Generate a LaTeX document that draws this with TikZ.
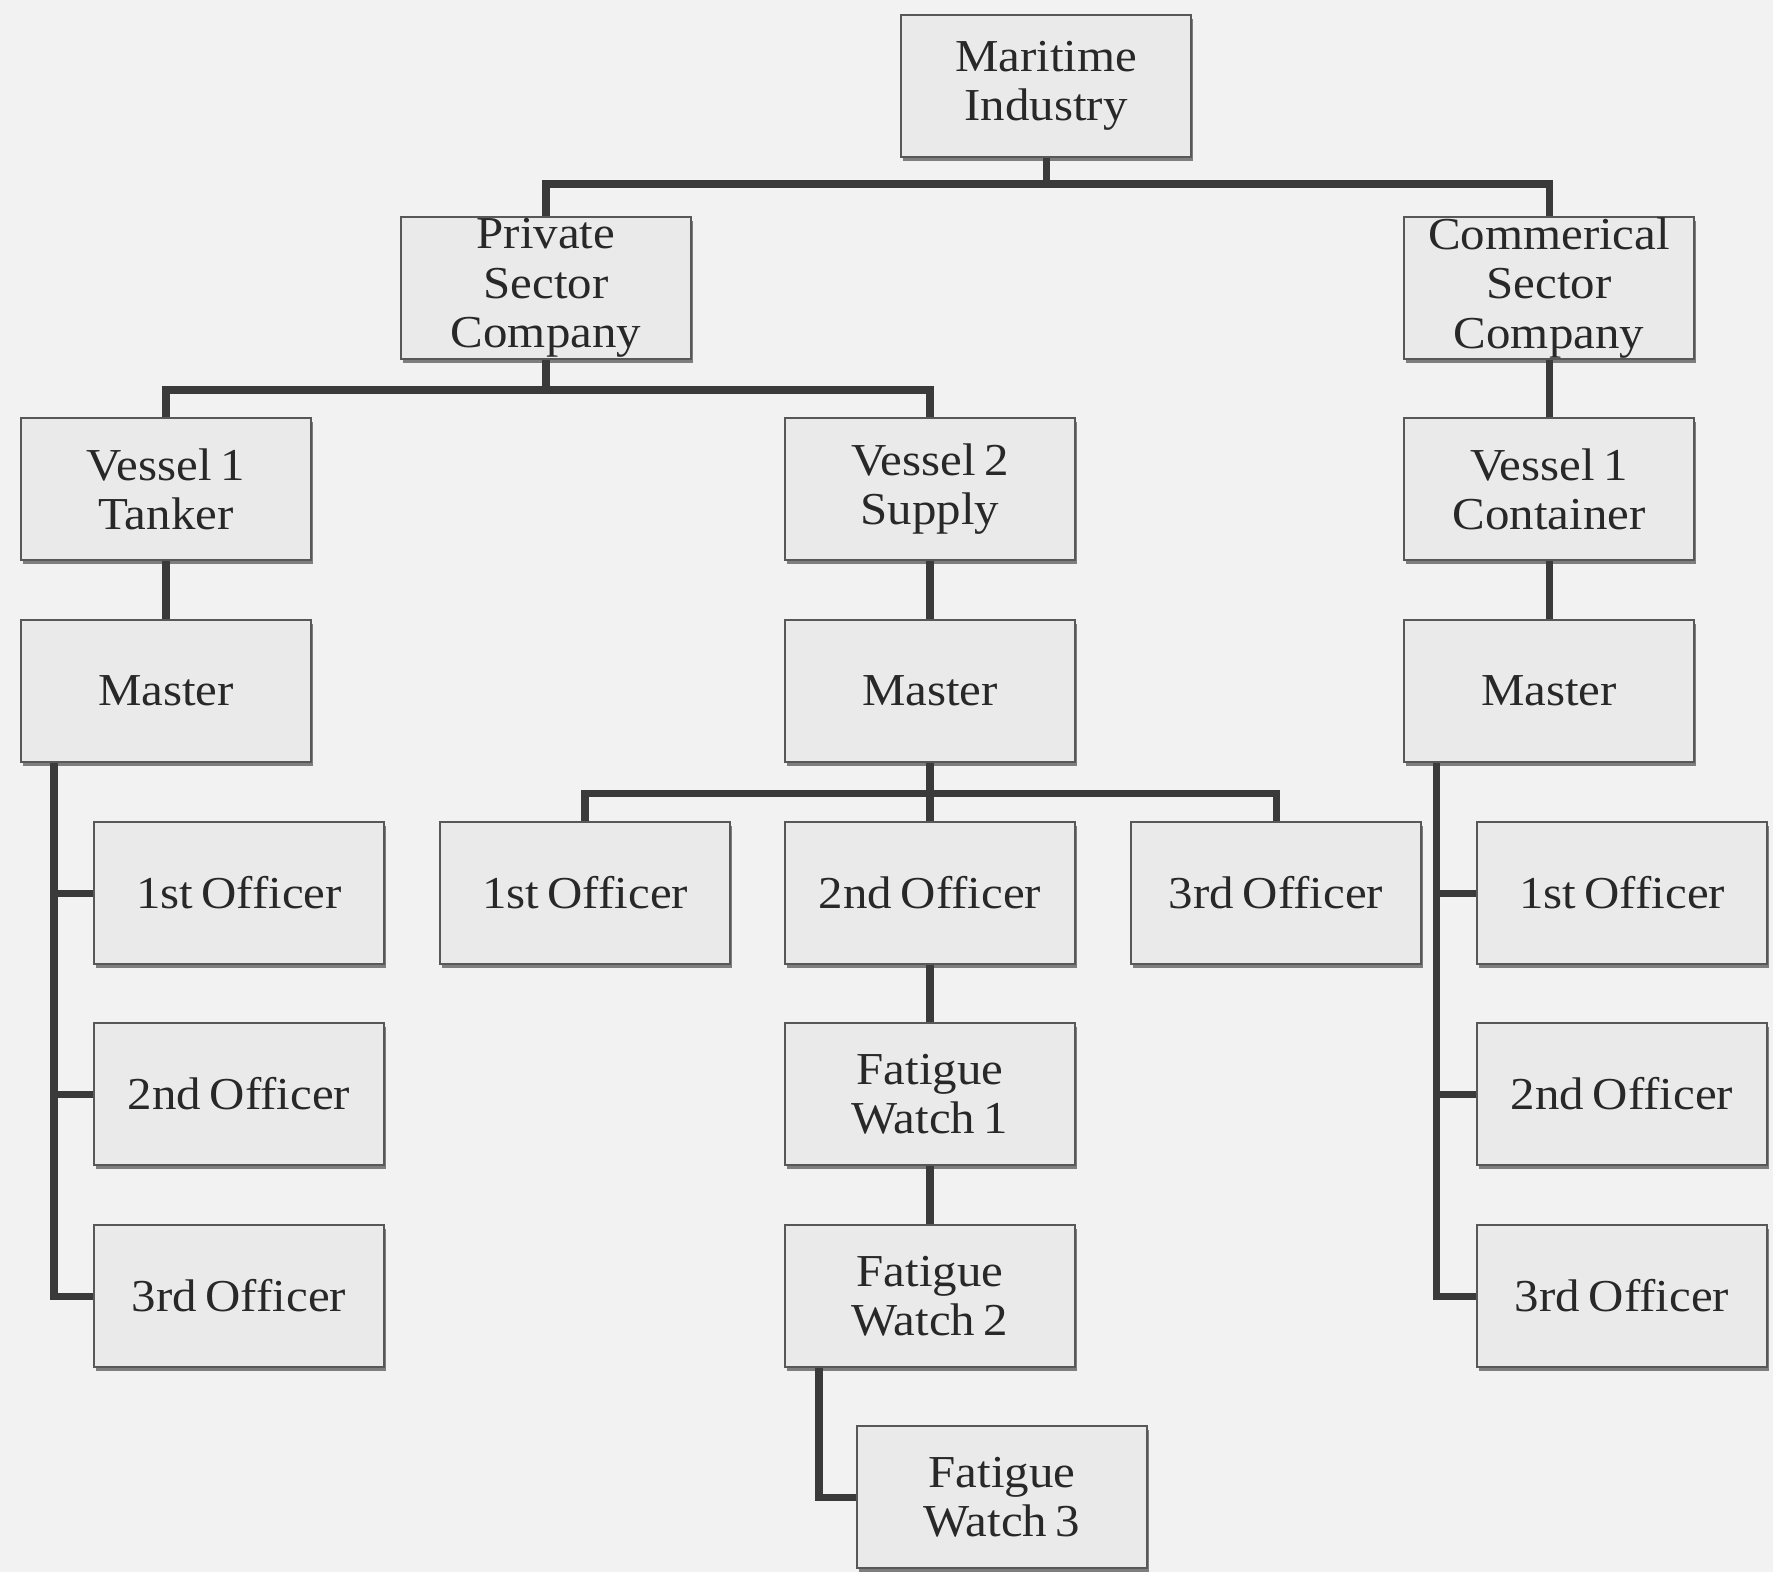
\documentclass[tikz,border=0pt]{standalone}
\usepackage{fontspec}
\setmainfont{Liberation Serif}[FakeStretch=1.07,WordSpace=0.7]
\usetikzlibrary{shadows}
\definecolor{bgcol}{RGB}{242,242,243}
\definecolor{boxcol}{RGB}{234,234,235}
\definecolor{linecol}{RGB}{58,58,58}
\definecolor{txtcol}{RGB}{40,40,40}
\begin{document}
\begin{tikzpicture}[x=0.01cm,y=-0.01cm,
  orgbox/.style={rectangle, draw=linecol!85, line width=0.6pt, fill=boxcol,
    minimum width=2.89cm, minimum height=1.42cm, inner sep=0pt, align=center,
    text=txtcol, font=\fontsize{13}{14}\selectfont,
    drop shadow={shadow xshift=0.02cm, shadow yshift=-0.04cm, fill=black!75, opacity=0.65}},
  conn/.style={draw=linecol, line width=2pt, line join=miter}]
\fill[bgcol] (0,0) rectangle (1773,1572);
\useasboundingbox (0,0) rectangle (1773,1572);

\coordinate (b1) at (0,184);
\coordinate (b2) at (0,390);
\coordinate (b3) at (0,793);
\coordinate (ls) at (54,0);
\coordinate (rs) at (1436,0);
\coordinate (fs) at (819,0);

\node[orgbox] (mi) at (1046,86) {Maritime\\Industry};
\node[orgbox] (psc) at (546,288) {Private\\Sector\\Company};
\node[orgbox] (csc) at (1549,288) {Commerical\\Sector\\Company};
\node[orgbox] (v1t) at (166,489) {Vessel 1\\Tanker};
\node[orgbox] (v2s) at (930,489) {Vessel 2\\Supply};
\node[orgbox] (v1c) at (1549,489) {Vessel 1\\Container};
\node[orgbox] (m1) at (166,691) {Master};
\node[orgbox] (m2) at (930,691) {Master};
\node[orgbox] (m3) at (1549,691) {Master};
\node[orgbox] (lo1) at (239,893) {1st Officer};
\node[orgbox] (lo2) at (239,1094) {2nd Officer};
\node[orgbox] (lo3) at (239,1296) {3rd Officer};
\node[orgbox] (mo1) at (585,893) {1st Officer};
\node[orgbox] (mo2) at (930,893) {2nd Officer};
\node[orgbox] (mo3) at (1276,893) {3rd Officer};
\node[orgbox] (fw1) at (930,1094) {Fatigue\\Watch 1};
\node[orgbox] (fw2) at (930,1296) {Fatigue\\Watch 2};
\node[orgbox] (fw3) at (1002,1497) {Fatigue\\Watch 3};
\node[orgbox] (ro1) at (1622,893) {1st Officer};
\node[orgbox] (ro2) at (1622,1094) {2nd Officer};
\node[orgbox] (ro3) at (1622,1296) {3rd Officer};

% top level
\draw[conn] (mi.south) -- (mi.south |- b1);
\draw[conn] (psc.north) |- (csc.north |- b1) -- (csc.north);
% private sector
\draw[conn] (psc.south) -- (psc.south |- b2);
\draw[conn] (v1t.north) |- (v2s.north |- b2) -- (v2s.north);
% commercial
\draw[conn] (csc.south) -- (v1c.north);
% vessels to masters
\draw[conn] (v1t.south) -- (m1.north);
\draw[conn] (v2s.south) -- (m2.north);
\draw[conn] (v1c.south) -- (m3.north);
% left officers
\draw[conn] (m1.south -| ls) |- (lo3.west);
\draw[conn] (lo1.west -| ls) -- (lo1.west);
\draw[conn] (lo2.west -| ls) -- (lo2.west);
% right officers
\draw[conn] (m3.south -| rs) |- (ro3.west);
\draw[conn] (ro1.west -| rs) -- (ro1.west);
\draw[conn] (ro2.west -| rs) -- (ro2.west);
% middle officers
\draw[conn] (m2.south) -- (mo2.north);
\draw[conn] (mo1.north) |- (mo3.north |- b3) -- (mo3.north);
% fatigue watches
\draw[conn] (mo2.south) -- (fw1.north);
\draw[conn] (fw1.south) -- (fw2.north);
\draw[conn] (fw2.south -| fs) |- (fw3.west);
\end{tikzpicture}
\end{document}
